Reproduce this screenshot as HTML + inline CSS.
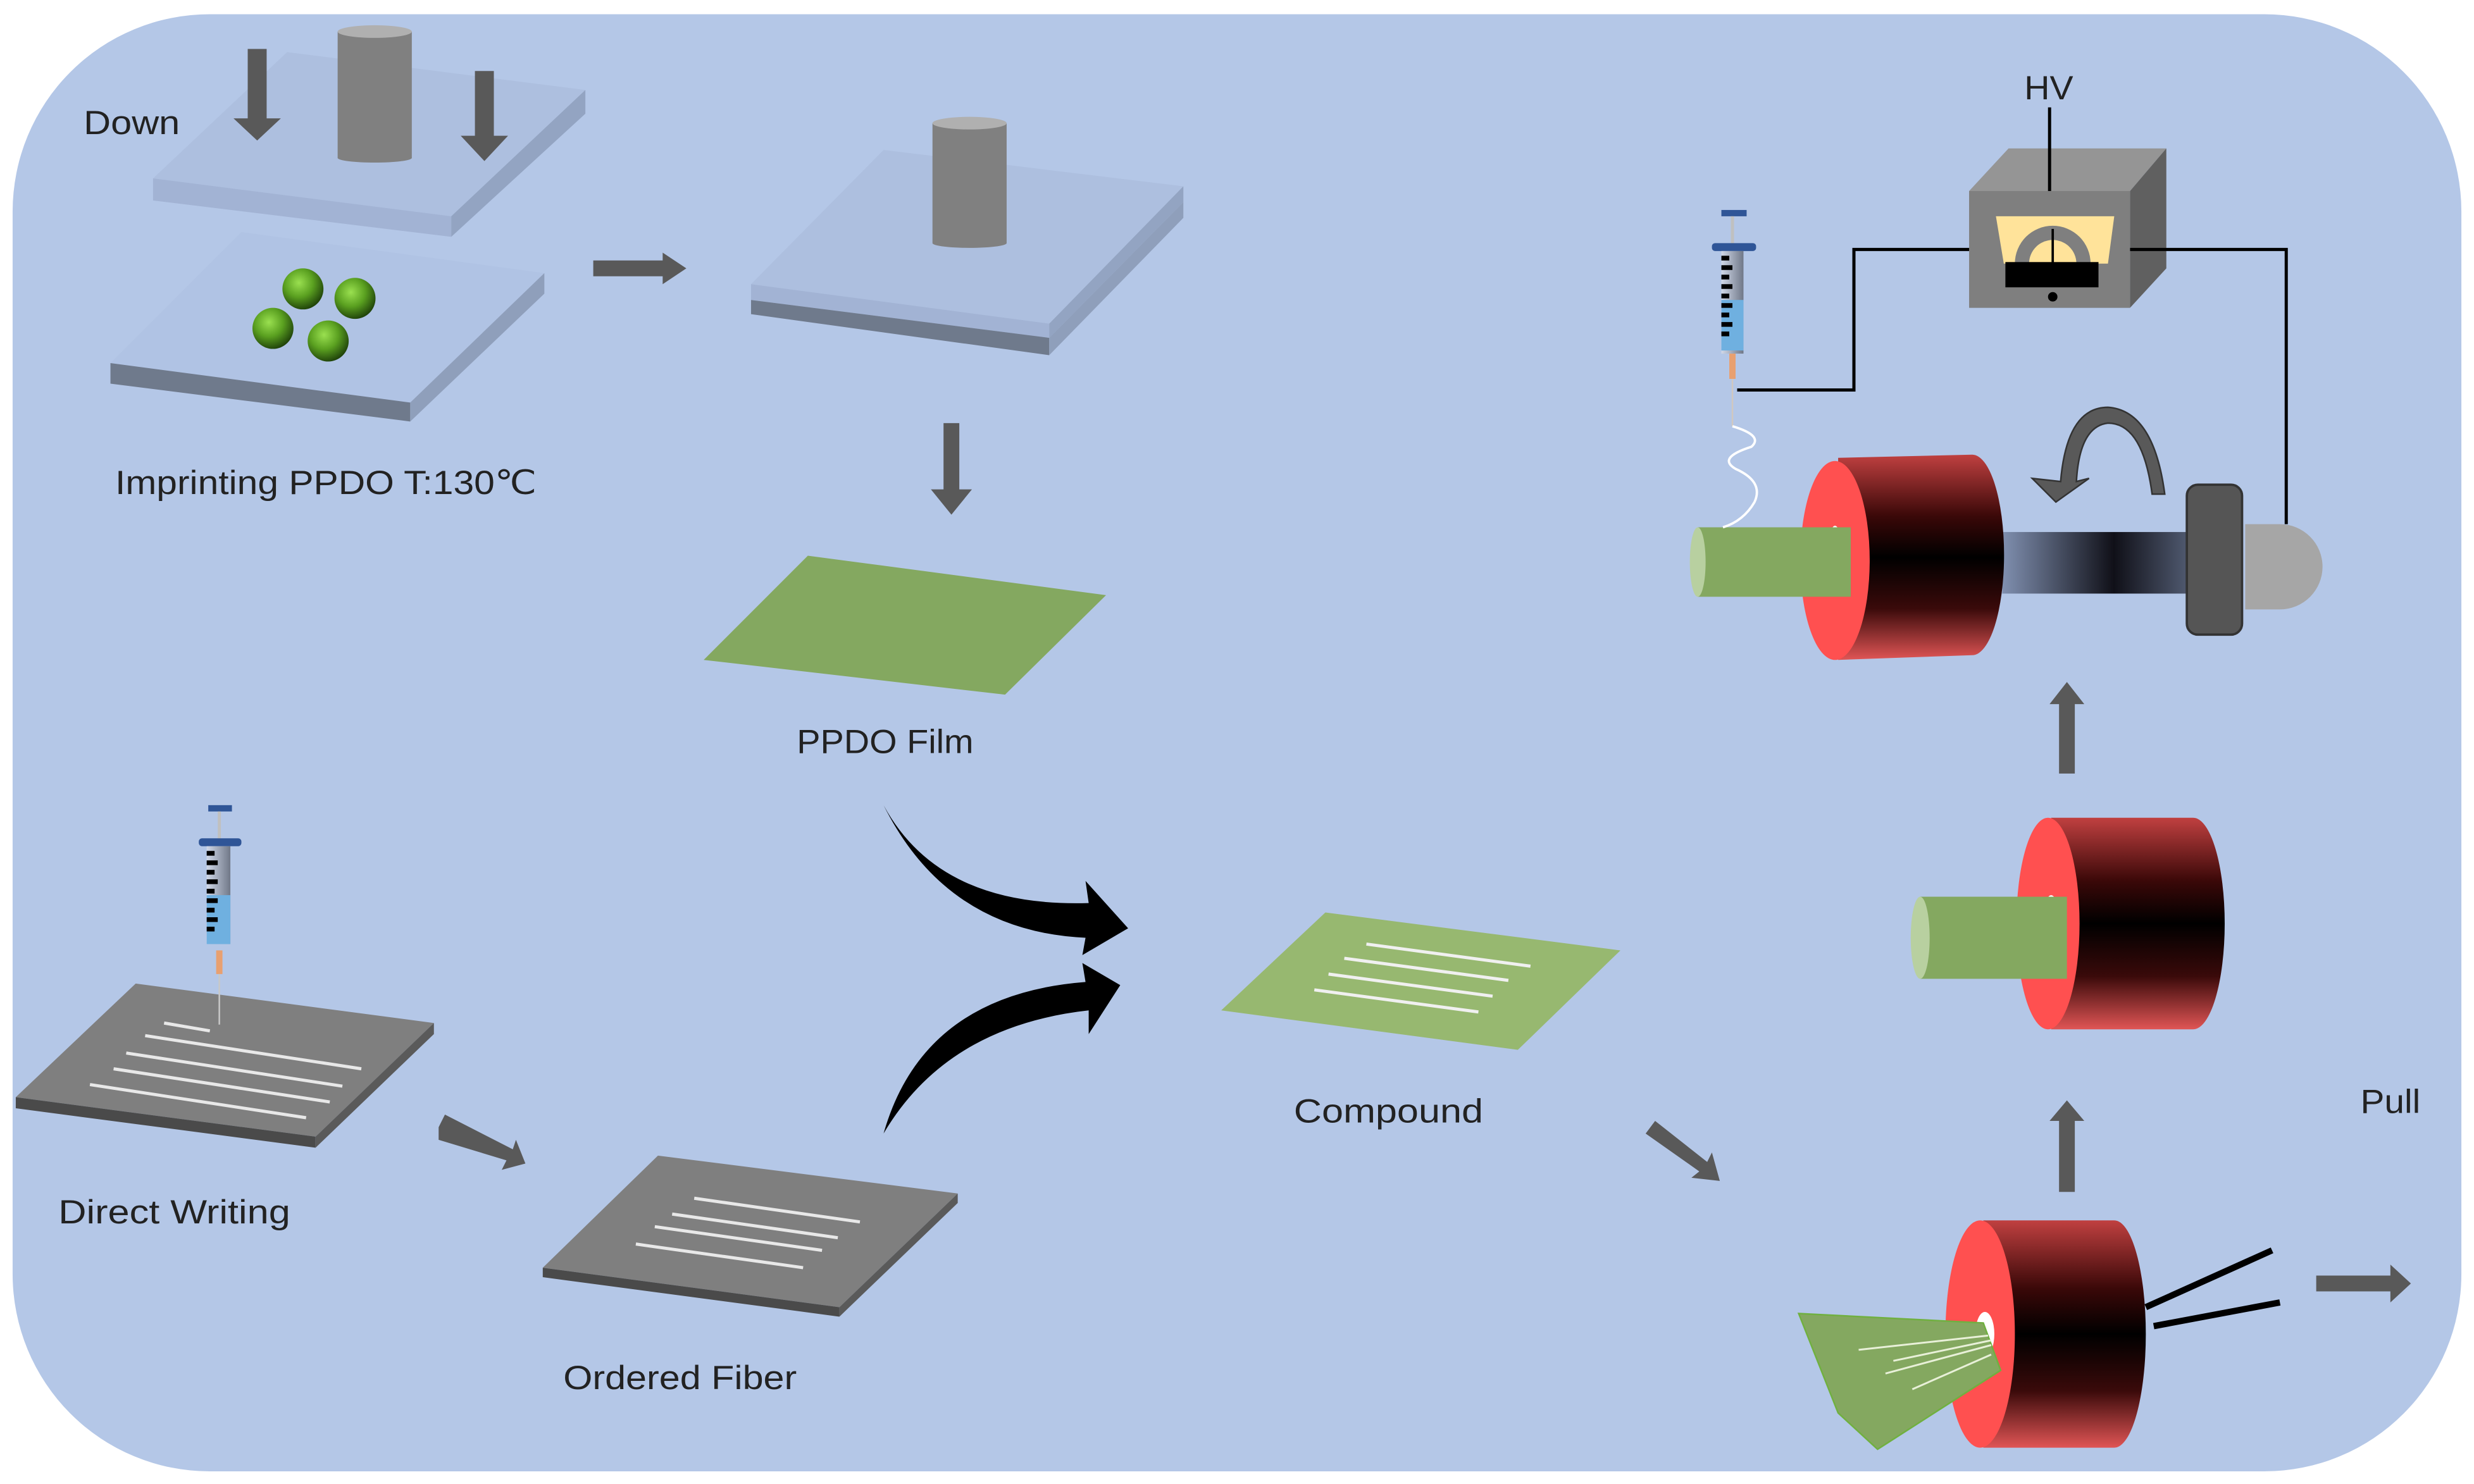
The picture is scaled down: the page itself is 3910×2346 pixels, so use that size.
<!DOCTYPE html>
<html><head><meta charset="utf-8"><style>html,body{margin:0;padding:0;background:#fff;}svg{display:block}</style></head>
<body>
<svg width="3910" height="2346" viewBox="0 0 1568 940" preserveAspectRatio="none" xmlns="http://www.w3.org/2000/svg">
<defs>
<linearGradient id="red" x1="0" y1="0" x2="0" y2="1">
<stop offset="0" stop-color="#c04040"/><stop offset="0.3" stop-color="#3a0808"/><stop offset="0.5" stop-color="#000"/><stop offset="0.75" stop-color="#3a0a0a"/><stop offset="1" stop-color="#e05555"/>
</linearGradient>
<linearGradient id="shaft" x1="0" y1="0" x2="1" y2="0">
<stop offset="0" stop-color="#8090b0"/><stop offset="0.6" stop-color="#101018"/><stop offset="1" stop-color="#505a70"/>
</linearGradient>
<radialGradient id="ball" cx="0.4" cy="0.35" r="0.7">
<stop offset="0" stop-color="#9ae050"/><stop offset="0.5" stop-color="#5aa020"/><stop offset="1" stop-color="#1a3a08"/>
</radialGradient>
<linearGradient id="syr" x1="0" y1="0" x2="1" y2="0">
<stop offset="0" stop-color="#d0d8e8"/><stop offset="1" stop-color="#707888"/>
</linearGradient>
</defs>
<rect x="8" y="9" width="1552" height="923" rx="125" ry="125" fill="#b4c7e7"/>

<!-- Press 1 -->
<polygon points="97,113 286,137 371,57 182,33" fill="#adbfdf"/>
<polygon points="97,113 286,137 286,150 97,127" fill="#a2b3d4"/>
<polygon points="286,137 371,57 371,72 286,150" fill="#93a4c2"/>
<rect x="214" y="20" width="47" height="80" fill="#808080"/>
<ellipse cx="237.5" cy="100" rx="23.5" ry="3" fill="#808080"/>
<ellipse cx="237.5" cy="20" rx="23.5" ry="4" fill="#b0b0b0"/>
<polygon points="157,31 169,31 169,75 178,75 163,89 148,75 157,75" fill="#595959"/>
<polygon points="301,45 313,45 313,86 322,86 307,102 292,86 301,86" fill="#595959"/>
<polygon points="70,230 260,255 345,173 153,147" fill="#b0c3e4"/>
<polygon points="70,230 260,255 260,267 70,243" fill="#6f7a8c"/>
<polygon points="260,255 345,173 345,186 260,267" fill="#8f9fbb"/>
<circle cx="192" cy="183" r="13" fill="url(#ball)"/>
<circle cx="225" cy="189" r="13" fill="url(#ball)"/>
<circle cx="173" cy="208" r="13" fill="url(#ball)"/>
<circle cx="208" cy="216" r="13" fill="url(#ball)"/>
<g font-family="Liberation Sans, sans-serif" font-size="21" fill="#222" lengthAdjust="spacingAndGlyphs">
<text x="53" y="85" textLength="61" lengthAdjust="spacingAndGlyphs">Down</text>
<text x="73" y="313" textLength="267" lengthAdjust="spacingAndGlyphs">Imprinting PPDO T:130℃</text>
<text x="505" y="477" textLength="112" lengthAdjust="spacingAndGlyphs">PPDO Film</text>
<text x="37" y="775" textLength="147" lengthAdjust="spacingAndGlyphs">Direct Writing</text>
<text x="357" y="880" textLength="148" lengthAdjust="spacingAndGlyphs">Ordered Fiber</text>
<text x="820" y="711" textLength="120" lengthAdjust="spacingAndGlyphs">Compound</text>
<text x="1496" y="705" textLength="38" lengthAdjust="spacingAndGlyphs">Pull</text>
<text x="1283" y="63" textLength="31" lengthAdjust="spacingAndGlyphs">HV</text>
</g>
<polygon points="376,165 420,165 420,160 435,170 420,180 420,175 376,175" fill="#595959"/>

<!-- Press 2 -->
<polygon points="476,180 665,205 750,118 560,95" fill="#adbfdf"/>
<polygon points="476,180 665,205 665,214 476,190" fill="#a2b3d4"/>
<polygon points="665,205 750,118 750,128 665,214" fill="#93a4c2"/>
<polygon points="476,190 665,214 665,225 476,199" fill="#6f7a8c"/>
<polygon points="665,214 750,128 750,138 665,225" fill="#8f9fbb"/>
<rect x="591" y="78" width="47" height="76" fill="#808080"/>
<ellipse cx="614.5" cy="154" rx="23.5" ry="3" fill="#808080"/>
<ellipse cx="614.5" cy="78" rx="23.5" ry="4" fill="#b0b0b0"/>
<polygon points="598,268 608,268 608,310 616,310 603,326 590,310 598,310" fill="#595959"/>

<!-- Film -->
<polygon points="446,418 637,440 701,377 512,352" fill="#84a860"/>

<!-- Curved arrows -->
<path d="M560,510 Q595,575 690,572 L688,558 L715,588 L686,605 L688,594 Q600,590 560,510 Z" fill="#000"/>
<path d="M560,718 Q585,630 688,622 L686,610 L710,624 L690,655 L690,640 Q600,650 560,718 Z" fill="#000"/>

<!-- Direct writing plate -->
<polygon points="10,695 200,720 275,648 86,623" fill="#7f7f7f"/>
<polygon points="10,695 200,720 200,727 10,702" fill="#4a4a4a"/>
<polygon points="200,720 275,648 275,655 200,727" fill="#5a5a5a"/>
<g stroke="#e8e8e8" stroke-width="2">
<line x1="104" y1="648" x2="133" y2="653"/>
<line x1="92" y1="656" x2="229" y2="677"/>
<line x1="80" y1="667" x2="217" y2="688"/>
<line x1="72" y1="677" x2="209" y2="698"/>
<line x1="57" y1="687" x2="194" y2="708"/>
</g>
<!-- syringe 1 -->
<g>
<rect x="132" y="510" width="15" height="4" fill="#2f5597"/>
<line x1="139" y1="514" x2="139" y2="533" stroke="#c0c0c0" stroke-width="2"/>
<rect x="126" y="531" width="27" height="5" rx="2" fill="#2f5597"/>
<rect x="131" y="536" width="15" height="62" fill="url(#syr)"/>
<rect x="131" y="567" width="15" height="31" fill="#6fb0e0"/>
<g fill="#000"><rect x="131" y="539" width="5" height="3"/><rect x="131" y="545" width="7" height="3"/><rect x="131" y="551" width="5" height="3"/><rect x="131" y="557" width="7" height="3"/><rect x="131" y="563" width="5" height="3"/><rect x="131" y="569" width="7" height="3"/><rect x="131" y="575" width="5" height="3"/><rect x="131" y="581" width="7" height="3"/><rect x="131" y="587" width="5" height="3"/></g>
<rect x="137" y="602" width="4" height="15" fill="#e8a070"/>
<line x1="139" y1="617" x2="139" y2="649" stroke="#c8c8c8" stroke-width="1"/>
</g>
<polygon points="278,714 282,706 325,728 327,722 333,737 318,741 321,735 278,722" fill="#595959"/>

<!-- Ordered fiber plate -->
<polygon points="344,803 532,828 607,756 417,732" fill="#7f7f7f"/>
<polygon points="344,803 532,828 532,834 344,809" fill="#4a4a4a"/>
<polygon points="532,828 607,756 607,762 532,834" fill="#5a5a5a"/>
<g stroke="#e8e8e8" stroke-width="2">
<line x1="440" y1="759" x2="545" y2="774"/>
<line x1="426" y1="769" x2="531" y2="784"/>
<line x1="415" y1="777" x2="521" y2="792"/>
<line x1="403" y1="788" x2="509" y2="803"/>
</g>

<!-- Compound -->
<polygon points="774,640 962,665 1027,602 840,578" fill="#97b870"/>
<g stroke="#f0f0f0" stroke-width="2">
<line x1="866" y1="598" x2="970" y2="612"/>
<line x1="852" y1="607" x2="956" y2="621"/>
<line x1="842" y1="617" x2="946" y2="631"/>
<line x1="833" y1="627" x2="937" y2="641"/>
</g>
<polygon points="1043,718 1049,710 1082,736 1085,730 1090,748 1072,746 1077,742 1043,718" fill="#595959"/>

<!-- Bottom roller -->
<path d="M1257,773 L1340,773 A20,72 0 0 1 1340,917 L1257,917 Z" fill="url(#red)"/>
<ellipse cx="1255" cy="845" rx="22" ry="72" fill="#ff5050"/>
<ellipse cx="1258" cy="845" rx="6" ry="14" fill="#fff"/>
<polygon points="1140,832 1257,838 1268,868 1190,918 1165,895" fill="#84a860" stroke="#70b040" stroke-width="1"/>
<g stroke="#e8f0d8" stroke-width="1.2">
<line x1="1178" y1="855" x2="1260" y2="846"/>
<line x1="1195" y1="870" x2="1262" y2="852"/>
<line x1="1212" y1="880" x2="1262" y2="858"/>
<line x1="1200" y1="862" x2="1262" y2="849"/>
</g>
<line x1="1360" y1="828" x2="1440" y2="792" stroke="#000" stroke-width="4"/>
<line x1="1365" y1="840" x2="1445" y2="825" stroke="#000" stroke-width="4"/>
<polygon points="1468,808 1515,808 1515,801 1528,813 1515,825 1515,818 1468,818" fill="#595959"/>
<polygon points="1305,755 1315,755 1315,710 1321,710 1310,697 1299,710 1305,710" fill="#595959"/>

<!-- Middle roller -->
<path d="M1300,518 L1390,518 A20,67 0 0 1 1390,652 L1300,652 Z" fill="url(#red)"/>
<ellipse cx="1298" cy="585" rx="20" ry="67" fill="#ff5050"/>
<ellipse cx="1300" cy="583" rx="5" ry="16" fill="#fff"/>
<rect x="1217" y="568" width="93" height="52" fill="#84a860"/>
<ellipse cx="1217" cy="594" rx="6" ry="26" fill="#b8d0a0"/>
<polygon points="1305,490 1315,490 1315,446 1321,446 1310,432 1299,446 1305,446" fill="#595959"/>

<!-- Top roller -->
<rect x="1269" y="337" width="118" height="39" fill="url(#shaft)"/>
<path d="M1165,290 L1250,288 A20,63 0 0 1 1250,415 L1165,418 Z" fill="url(#red)"/>
<ellipse cx="1163" cy="355" rx="22" ry="63" fill="#ff5050"/>
<ellipse cx="1163" cy="355" rx="5" ry="22" fill="#fff"/>
<rect x="1076" y="334" width="97" height="44" fill="#84a860"/>
<ellipse cx="1076" cy="356" rx="5" ry="22" fill="#b8d0a0"/>
<rect x="1386" y="307" width="35" height="95" rx="7" fill="#555" stroke="#333" stroke-width="1.5"/>
<path d="M1423,332 L1445,332 A27,27 0 0 1 1445,386 L1423,386 Z" fill="#a6a6a6"/>
<path d="M1372,313 L1364,313 Q1358,268 1336,268 Q1318,270 1316,305 L1324,303 L1303,318 L1288,303 L1306,305 Q1310,258 1336,258 Q1365,260 1372,313 Z" fill="#595959" stroke="#333" stroke-width="1"/>

<!-- HV box -->
<polygon points="1248,121 1273,94 1373,94 1350,121" fill="#959595"/>
<polygon points="1350,121 1373,94 1373,170 1350,195" fill="#606060"/>
<rect x="1248" y="121" width="102" height="74" fill="#7f7f7f"/>
<polygon points="1265,137 1340,137 1336,167 1270,167" fill="#ffe39a"/>
<path d="M1277,167 A24,24 0 0 1 1325,167 L1316,167 A15,15 0 0 0 1286,167 Z" fill="#7f7f7f"/>
<line x1="1301" y1="145" x2="1301" y2="168" stroke="#000" stroke-width="1.5"/>
<rect x="1271" y="166" width="59" height="16" fill="#000"/>
<circle cx="1301" cy="188" r="3" fill="#000"/>
<line x1="1299" y1="68" x2="1299" y2="121" stroke="#000" stroke-width="2"/>
<polyline points="1101,247 1175,247 1175,158 1248,158" fill="none" stroke="#000" stroke-width="2"/>
<polyline points="1350,158 1449,158 1449,332" fill="none" stroke="#000" stroke-width="2"/>

<!-- syringe 2 -->
<g>
<rect x="1091" y="133" width="16" height="4" fill="#2f5597"/>
<line x1="1098" y1="137" x2="1098" y2="156" stroke="#c0c0c0" stroke-width="2"/>
<rect x="1085" y="154" width="28" height="5" rx="2" fill="#2f5597"/>
<rect x="1091" y="159" width="14" height="65" fill="url(#syr)"/>
<rect x="1091" y="190" width="14" height="32" fill="#6fb0e0"/>
<g fill="#000"><rect x="1091" y="162" width="5" height="3"/><rect x="1091" y="168" width="7" height="3"/><rect x="1091" y="174" width="5" height="3"/><rect x="1091" y="180" width="7" height="3"/><rect x="1091" y="186" width="5" height="3"/><rect x="1091" y="192" width="7" height="3"/><rect x="1091" y="198" width="5" height="3"/><rect x="1091" y="204" width="7" height="3"/><rect x="1091" y="210" width="5" height="3"/></g>
<rect x="1096" y="224" width="4" height="16" fill="#e8a070"/>
<line x1="1098" y1="240" x2="1098" y2="270" stroke="#d0c8c0" stroke-width="1"/>
<path d="M1098,270 Q1118,276 1110,283 Q1088,290 1100,297 Q1118,305 1112,318 Q1105,330 1092,334" fill="none" stroke="#fff" stroke-width="1.5"/>
</g>
</svg>
</body></html>
